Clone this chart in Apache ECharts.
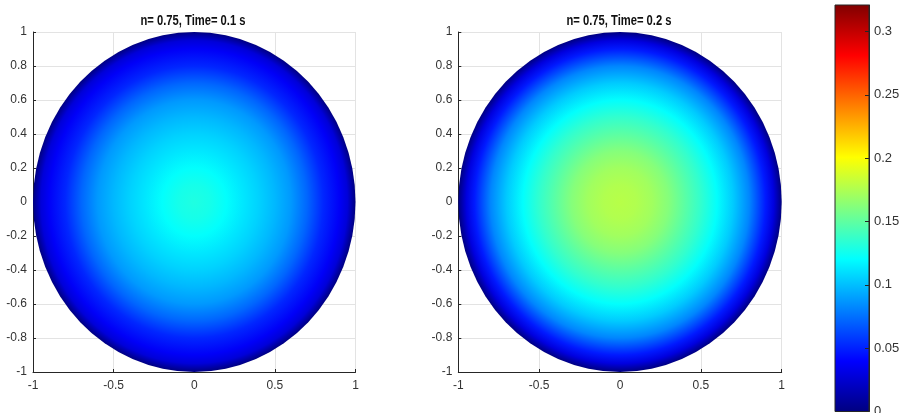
<!DOCTYPE html>
<html>
<head>
<meta charset="utf-8">
<script src="https://cdn.jsdelivr.net/npm/echarts@6/dist/echarts.min.js"></script>
<style>
  html, body { margin: 0; padding: 0; background: #ffffff; }
  #chart { width: 904px; height: 413px; }
</style>
</head>
<body>
<div id="chart"></div>
<script>
// Radial velocity profile across the pipe cross-section (r = 0 at the axis, r = 1 at the wall)
const radii       = [0, 0.1, 0.2, 0.3, 0.4, 0.5, 0.6, 0.7, 0.8, 0.9, 0.95, 1.0];
const velocityT01 = [0.130, 0.127, 0.121, 0.113, 0.106, 0.098, 0.088, 0.072, 0.052, 0.038, 0.028, 0];
const velocityT02 = [0.178, 0.176, 0.171, 0.162, 0.149, 0.136, 0.121, 0.104, 0.082, 0.048, 0.030, 0];

const panelTitles = ['n= 0.75, Time= 0.1 s', 'n= 0.75, Time= 0.2 s'];

// Axis ticks
const xTicks = [-1, -0.5, 0, 0.5, 1];
const yTicks = [-1, -0.8, -0.6, -0.4, -0.2, 0, 0.2, 0.4, 0.6, 0.8, 1];
const colorbarTicks = [0, 0.05, 0.1, 0.15, 0.2, 0.25, 0.3];
const colorbarMax = 0.321;

// Jet colormap, evenly spaced knots
const jetColors = [
  'rgb(0,0,128)', 'rgb(0,0,255)', 'rgb(0,128,255)', 'rgb(0,255,255)',
  'rgb(128,255,128)', 'rgb(255,255,0)', 'rgb(255,128,0)', 'rgb(255,0,0)', 'rgb(128,0,0)'
];

function jet(value) {
  const t = Math.max(0, Math.min(1, value / colorbarMax));
  return echarts.color.lerp(t, jetColors);
}

function step(ticks) {
  return Math.round((ticks[1] - ticks[0]) * 1e6) / 1e6;
}

function tickText(v) {
  return String(Math.round(v * 1000) / 1000);
}

const FONT = "'Liberation Sans', Arial, Helvetica, sans-serif";
const AXIS_DARK = '#262626';
const GRID_LIGHT = '#e3e3e3';

function panelAxis(ticks, isX, gridIndex) {
  return {
    type: 'value',
    gridIndex: gridIndex,
    min: ticks[0],
    max: ticks[ticks.length - 1],
    interval: step(ticks),
    axisLine: { show: true, onZero: false, lineStyle: { color: AXIS_DARK, width: 1 } },
    axisTick: { show: true, inside: true, length: 3, lineStyle: { color: AXIS_DARK } },
    splitLine: { show: true, lineStyle: { color: GRID_LIGHT, width: 1 } },
    axisLabel: {
      color: '#333', fontSize: 12, fontFamily: FONT,
      margin: isX ? 8 : 6,
      formatter: tickText
    }
  };
}

// Filled disk whose colour follows the radial profile
function diskRenderer(profile) {
  return function (params, api) {
    const c = api.coord([api.value(0), api.value(1)]);
    const s = api.size([api.value(2), api.value(2)]);
    const rx = s[0], ry = s[1];
    const stops = radii.map((r, i) => ({ offset: r, color: jet(profile[i]) }));
    return {
      type: 'circle',
      x: c[0],
      y: c[1],
      scaleY: ry / rx,
      shape: { cx: 0, cy: 0, r: rx },
      style: {
        fill: new echarts.graphic.RadialGradient(0.5, 0.5, 0.5, stops, false)
      }
    };
  };
}

function colorbarRenderer(params, api) {
  const p0 = api.coord([api.value(0), api.value(2)]);
  const p1 = api.coord([api.value(1), api.value(3)]);
  const stops = jetColors.map((col, i) => ({ offset: i / (jetColors.length - 1), color: col }));
  return {
    type: 'rect',
    shape: { x: p0[0], y: p1[1], width: p1[0] - p0[0], height: p0[1] - p1[1] },
    style: {
      fill: new echarts.graphic.LinearGradient(0, 1, 0, 0, stops, false),
      stroke: AXIS_DARK,
      lineWidth: 1
    }
  };
}

function titleText(text, cx) {
  return {
    type: 'text', x: cx, y: 21.5, scaleX: 0.8,
    style: {
      text: text, fill: '#111', font: "bold 14px " + FONT,
      align: 'center', verticalAlign: 'middle'
    }
  };
}

const chart = echarts.init(document.getElementById('chart'), null, { renderer: 'canvas' });

const option = {
  animation: false,
  backgroundColor: '#ffffff',
  textStyle: { fontFamily: FONT },
  grid: [
    { left: 33, top: 32, width: 322.5, height: 340, outerBoundsMode: 'none', containLabel: false },
    { left: 458.3, top: 32, width: 323.4, height: 340, outerBoundsMode: 'none', containLabel: false },
    { left: 835, top: 5, width: 34, height: 406.5, outerBoundsMode: 'none', containLabel: false }
  ],
  xAxis: [
    panelAxis(xTicks, true, 0),
    panelAxis(xTicks, true, 1),
    { type: 'value', gridIndex: 2, min: 0, max: 1, show: false }
  ],
  yAxis: [
    panelAxis(yTicks, false, 0),
    panelAxis(yTicks, false, 1),
    {
      type: 'value', gridIndex: 2, position: 'right',
      min: colorbarTicks[0], max: colorbarMax,
      interval: step(colorbarTicks),
      axisLine: { show: true, onZero: false, lineStyle: { color: AXIS_DARK } },
      axisTick: { show: true, inside: true, length: 4, lineStyle: { color: AXIS_DARK } },
      splitLine: { show: false },
      axisLabel: {
        color: '#333', fontSize: 13, fontFamily: FONT,
        margin: 5, showMaxLabel: false, formatter: tickText
      },
      z: 5
    }
  ],
  graphic: [
    titleText(panelTitles[0], 193),
    titleText(panelTitles[1], 619)
  ],
  series: [
    {
      type: 'custom', xAxisIndex: 0, yAxisIndex: 0,
      renderItem: diskRenderer(velocityT01),
      data: [[0, 0, radii[radii.length - 1]]],
      silent: true
    },
    {
      type: 'custom', xAxisIndex: 1, yAxisIndex: 1,
      renderItem: diskRenderer(velocityT02),
      data: [[0, 0, radii[radii.length - 1]]],
      silent: true
    },
    {
      type: 'custom', xAxisIndex: 2, yAxisIndex: 2,
      renderItem: colorbarRenderer,
      data: [[0, 1, colorbarTicks[0], colorbarMax]],
      silent: true
    }
  ]
};

chart.setOption(option);
</script>
</body>
</html>
